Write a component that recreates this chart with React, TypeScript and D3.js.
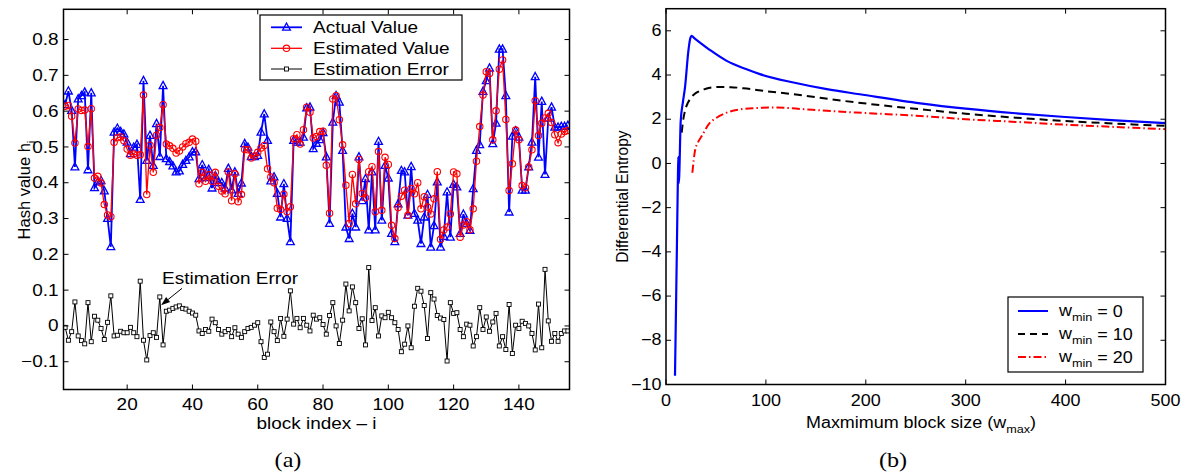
import React from 'react';
import * as d3 from 'd3';

// ---------- Panel (a) data ----------
const actualValue = [
  0.618, 0.656, 0.602, 0.444, 0.634, 0.643, 0.653, 0.436, 0.651, 0.386,
  0.402, 0.406, 0.377, 0.300, 0.221, 0.541, 0.552, 0.543, 0.536, 0.513,
  0.481, 0.499, 0.507, 0.353, 0.685, 0.462, 0.532, 0.448, 0.565, 0.473,
  0.671, 0.467, 0.459, 0.447, 0.430, 0.433, 0.451, 0.462, 0.472, 0.486,
  0.486, 0.411, 0.450, 0.414, 0.437, 0.385, 0.420, 0.400, 0.400, 0.385,
  0.440, 0.380, 0.430, 0.370, 0.399, 0.509, 0.499, 0.473, 0.473, 0.476,
  0.541, 0.592, 0.518, 0.405, 0.416, 0.370, 0.304, 0.397, 0.300, 0.235,
  0.518, 0.513, 0.513, 0.527, 0.609, 0.611, 0.495, 0.510, 0.520, 0.540,
  0.472, 0.286, 0.569, 0.643, 0.625, 0.490, 0.276, 0.244, 0.314, 0.276,
  0.472, 0.350, 0.411, 0.268, 0.430, 0.268, 0.515, 0.295, 0.448, 0.413,
  0.258, 0.235, 0.341, 0.434, 0.430, 0.309, 0.445, 0.314, 0.295, 0.230,
  0.304, 0.367, 0.220, 0.280, 0.402, 0.220, 0.250, 0.374, 0.248, 0.395,
  0.388, 0.258, 0.312, 0.286, 0.267, 0.383, 0.490, 0.506, 0.655, 0.685,
  0.720, 0.509, 0.566, 0.773, 0.773, 0.643, 0.318, 0.530, 0.545, 0.527,
  0.379, 0.379, 0.444, 0.513, 0.696, 0.471, 0.627, 0.423, 0.580, 0.611,
  0.555, 0.555, 0.557, 0.557, 0.560,
];

const estimatedValue = [
  0.614, 0.616, 0.586, 0.511, 0.606, 0.602, 0.603, 0.501, 0.607, 0.413,
  0.418, 0.399, 0.339, 0.310, 0.305, 0.513, 0.526, 0.528, 0.517, 0.494,
  0.477, 0.480, 0.477, 0.478, 0.645, 0.367, 0.505, 0.429, 0.533, 0.554,
  0.618, 0.508, 0.503, 0.496, 0.483, 0.489, 0.500, 0.509, 0.513, 0.522,
  0.516, 0.397, 0.429, 0.404, 0.422, 0.404, 0.429, 0.390, 0.377, 0.369,
  0.430, 0.350, 0.425, 0.347, 0.367, 0.493, 0.492, 0.469, 0.475, 0.485,
  0.497, 0.504, 0.439, 0.416, 0.400, 0.329, 0.325, 0.368, 0.319, 0.333,
  0.523, 0.534, 0.508, 0.548, 0.611, 0.597, 0.525, 0.529, 0.543, 0.544,
  0.449, 0.315, 0.634, 0.643, 0.576, 0.506, 0.393, 0.286, 0.423, 0.341,
  0.465, 0.370, 0.358, 0.431, 0.445, 0.319, 0.487, 0.323, 0.471, 0.451,
  0.281, 0.244, 0.331, 0.362, 0.379, 0.309, 0.384, 0.369, 0.400, 0.327,
  0.361, 0.332, 0.313, 0.355, 0.431, 0.242, 0.268, 0.276, 0.313, 0.430,
  0.425, 0.248, 0.282, 0.291, 0.269, 0.327, 0.460, 0.557, 0.645, 0.710,
  0.705, 0.520, 0.601, 0.717, 0.743, 0.577, 0.378, 0.453, 0.547, 0.520,
  0.392, 0.386, 0.444, 0.492, 0.629, 0.532, 0.566, 0.581, 0.594, 0.568,
  0.534, 0.512, 0.536, 0.543, 0.546,
];

const estimationError = [
  -0.004, -0.040, -0.016, 0.067, -0.028, -0.041, -0.050, 0.065, -0.044, 0.027,
  0.016, -0.007, -0.038, 0.010, 0.084, -0.028, -0.026, -0.015, -0.019, -0.019,
  -0.004, -0.019, -0.030, 0.125, -0.040, -0.095, -0.027, -0.019, -0.032, 0.081,
  -0.053, 0.041, 0.044, 0.049, 0.053, 0.056, 0.049, 0.047, 0.041, 0.036,
  0.030, -0.014, -0.021, -0.010, -0.015, 0.019, 0.009, -0.010, -0.023, -0.016,
  -0.010, -0.030, -0.005, -0.023, -0.032, -0.016, -0.007, -0.004, 0.002, 0.009,
  -0.044, -0.088, -0.079, 0.011, -0.016, -0.041, 0.021, -0.029, 0.019, 0.098,
  0.005, 0.021, -0.005, 0.021, 0.002, -0.014, 0.030, 0.019, 0.023, 0.004,
  -0.023, 0.029, 0.065, 0.000, -0.049, 0.016, 0.117, 0.042, 0.109, 0.065,
  -0.007, 0.020, -0.053, 0.163, 0.015, 0.051, -0.028, 0.028, 0.023, 0.038,
  0.023, 0.009, -0.010, -0.072, -0.051, 0.000, -0.061, 0.055, 0.105, 0.097,
  0.057, -0.035, 0.093, 0.075, 0.029, 0.022, 0.018, -0.098, 0.065, 0.035,
  0.037, -0.010, -0.030, 0.005, 0.002, -0.056, -0.030, 0.051, -0.010, 0.025,
  -0.015, 0.011, 0.035, -0.056, -0.030, -0.066, 0.060, -0.077, 0.002, -0.007,
  0.013, 0.007, 0.000, -0.021, -0.067, 0.061, -0.061, 0.158, 0.014, -0.043,
  -0.021, -0.043, -0.021, -0.014, -0.014,
];

const xTicksA = [20, 40, 60, 80, 100, 120, 140];
const yTicksA = [-0.1, 0, 0.1, 0.2, 0.3, 0.4, 0.5, 0.6, 0.7, 0.8];
const legendA = ['Actual Value', 'Estimated Value', 'Estimation Error'];

// ---------- Panel (b) data: [w_max, differential entropy] ----------
const wmin0: [number, number][] = [
  [9, -9.6], [10, -6.6], [11, -3.5], [12, -0.4], [12.4, 0.3], [12.6, -0.9], [13.2, -0.6],
  [14.7, 1.9], [17, 2.8], [19, 3.43], [22.4, 5.09], [24, 5.6], [25.7, 5.77], [28, 5.68],
  [34, 5.47], [45, 5.1], [60.8, 4.64], [80, 4.27], [94, 4.04], [127.6, 3.66], [161, 3.36],
  [194, 3.13], [254.5, 2.72], [300, 2.48], [350, 2.27], [400, 2.1], [450, 1.95], [500, 1.82],
];
const wmin10: [number, number][] = [
  [15.7, 1.39], [17, 1.9], [19, 2.38], [22, 2.75], [24, 2.91], [28, 3.12], [34, 3.28],
  [40, 3.38], [50.8, 3.46], [65, 3.45], [77.5, 3.4], [100, 3.27], [127.6, 3.13],
  [177.7, 2.83], [254.5, 2.45], [300, 2.25], [350, 2.07], [400, 1.92], [450, 1.8], [500, 1.7],
];
const wmin20: [number, number][] = [
  [26.4, -0.42], [29, 0.57], [32, 0.95], [35.8, 1.24], [44, 1.85], [50, 2.05], [60.8, 2.3],
  [75, 2.45], [87.5, 2.5], [111, 2.53], [130, 2.48], [161, 2.38], [200, 2.28], [254.5, 2.15],
  [300, 2.0], [350, 1.88], [400, 1.75], [450, 1.65], [500, 1.55],
];
const xTicksB = [0, 100, 200, 300, 400, 500];
const yTicksB = [-10, -8, -6, -4, -2, 0, 2, 4, 6];
const legendB = ['0', '10', '20'];

const SANS = '"Liberation Sans", Arial, Helvetica, sans-serif';
const SERIF = '"Liberation Serif", "Times New Roman", serif';
const SX = 1.15;

const fmt = (v: number) => {
  const s = d3.format('')(Math.round(v * 10) / 10);
  return s.replace('-', '\u2212');
};

type TP = {
  x: number; y: number; size: number; anchor?: string; baseline?: string;
  family?: string; rotate?: number; sx?: number; children: React.ReactNode;
};
const T = ({ x, y, size, anchor = 'start', baseline = 'auto', family = SANS, rotate = 0, sx = SX, children }: TP) => (
  <text
    transform={`translate(${x},${y}) rotate(${rotate}) scale(${rotate ? 1 : sx},1)`}
    fontSize={size}
    fontFamily={family}
    textAnchor={anchor}
    dominantBaseline={baseline}
    fill="#000"
  >
    {children}
  </text>
);

const tri = (x: number, y: number) => `M${x},${y - 4.3}L${x + 3.9},${y + 2.9}L${x - 3.9},${y + 2.9}Z`;

export default function App() {
  // ---- Panel (a) scales ----
  const xA = d3.scaleLinear().domain([0.5, 155.5]).range([63.5, 569.5]);
  const yA = d3.scaleLinear().domain([-0.1776, 0.8845]).range([389.5, 9.3]);
  const idx = actualValue.map((_, i) => i + 1);

  const lineA = (vals: number[]) =>
    d3.line<number>().x((_, i) => xA(idx[i])).y((v) => yA(v))(vals) as string;

  // ---- Panel (b) scales ----
  const xB = d3.scaleLinear().domain([0, 500]).range([666, 1165.5]);
  const yB = d3.scaleLinear().domain([-10, 7]).range([384.5, 8.7]);
  const lineB = d3.line<[number, number]>().x((d) => xB(d[0])).y((d) => yB(d[1])).curve(d3.curveMonotoneX);

  const tl = 5;
  const [ax0, ax1] = xA.range();
  const [ay0, ay1] = yA.range();
  const [bx0, bx1] = xB.range();
  const [by0, by1] = yB.range();

  // annotation (data coordinates)
  const arrowTip = [30.4, 0.058];
  const arrowTail = [36.8, 0.105];
  const tipX = xA(arrowTip[0]), tipY = yA(arrowTip[1]);
  const tailX = xA(arrowTail[0]), tailY = yA(arrowTail[1]);
  const ang = Math.atan2(tipY - tailY, tipX - tailX);
  const ah = 9, aw = 3.2;
  const bxp = tipX - ah * Math.cos(ang), byp = tipY - ah * Math.sin(ang);
  const head = `M${tipX},${tipY}L${bxp + aw * Math.sin(ang)},${byp - aw * Math.cos(ang)}L${bxp - aw * Math.sin(ang)},${byp + aw * Math.cos(ang)}Z`;

  const legA = { x0: 260, y0: 15, w: 202, h: 65, rows: [27.3, 48.3, 69] };
  const legB = { x0: 1008, y0: 297, w: 135, h: 75, rows: [311, 334, 357] };

  return (
    <svg width={1185} height={475} style={{ position: 'absolute', left: 0, top: 0, background: '#fff' }}>
      <rect width={1185} height={475} fill="#fff" />

      {/* ================= Panel (a) ================= */}
      <g>
        <clipPath id="clipA">
          <rect x={ax0} y={ay1} width={ax1 - ax0} height={ay0 - ay1} />
        </clipPath>
        <g clipPath="url(#clipA)">
          <path d={lineA(actualValue)} fill="none" stroke="#0000ff" strokeWidth={1.8} />
          {actualValue.map((v, i) => (
            <path key={'a' + i} d={tri(xA(idx[i]), yA(v))} fill="none" stroke="#0000ff" strokeWidth={1.3} />
          ))}
          <path d={lineA(estimatedValue)} fill="none" stroke="#ff0000" strokeWidth={1.3} />
          {estimatedValue.map((v, i) => (
            <circle key={'e' + i} cx={xA(idx[i])} cy={yA(v)} r={3.2} fill="none" stroke="#ff0000" strokeWidth={1.1} />
          ))}
          <path d={lineA(estimationError)} fill="none" stroke="#000" strokeWidth={1} />
          {estimationError.map((v, i) => (
            <rect key={'r' + i} x={xA(idx[i]) - 2} y={yA(v) - 2} width={4} height={4} fill="#fff" stroke="#000" strokeWidth={0.9} />
          ))}
        </g>

        {/* axes box */}
        <rect x={ax0} y={ay1} width={ax1 - ax0} height={ay0 - ay1} fill="none" stroke="#000" strokeWidth={1.5} />
        {xTicksA.map((t) => (
          <g key={'xa' + t}>
            <line x1={xA(t)} x2={xA(t)} y1={ay0} y2={ay0 - tl} stroke="#000" />
            <line x1={xA(t)} x2={xA(t)} y1={ay1} y2={ay1 + tl} stroke="#000" />
            <T x={xA(t)} y={410} size={16.5} anchor="middle">{String(t)}</T>
          </g>
        ))}
        {yTicksA.map((t) => (
          <g key={'ya' + t}>
            <line x1={ax0} x2={ax0 + tl} y1={yA(t)} y2={yA(t)} stroke="#000" />
            <line x1={ax1} x2={ax1 - tl} y1={yA(t)} y2={yA(t)} stroke="#000" />
            <T x={58.5} y={yA(t)} size={16.5} anchor="end" baseline="central">{fmt(t)}</T>
          </g>
        ))}
        <T x={(ax0 + ax1) / 2} y={428.5} size={16.5} anchor="middle">block index – i</T>
        <T x={30} y={190} size={16.5} anchor="middle" rotate={-90}>
          Hash value h<tspan fontSize={11.5} dy={5}>i</tspan>
        </T>

        {/* annotation */}
        <T x={xA(30.7)} y={yA(0.133)} size={16.5} baseline="central">Estimation Error</T>
        <line x1={tailX} y1={tailY} x2={bxp} y2={byp} stroke="#000" strokeWidth={1} />
        <path d={head} fill="#000" />

        {/* legend */}
        <rect x={legA.x0} y={legA.y0} width={legA.w} height={legA.h} fill="#fff" stroke="#000" strokeWidth={1.2} />
        {legendA.map((name, k) => {
          const y = legA.rows[k];
          const x1 = 271, x2 = 302, xm = (x1 + x2) / 2;
          return (
            <g key={name}>
              {k === 0 && (
                <>
                  <line x1={x1} x2={x2} y1={y} y2={y} stroke="#0000ff" strokeWidth={1.8} />
                  <path d={tri(xm, y)} fill="none" stroke="#0000ff" strokeWidth={1.3} />
                </>
              )}
              {k === 1 && (
                <>
                  <line x1={x1} x2={x2} y1={y} y2={y} stroke="#ff0000" strokeWidth={1.3} />
                  <circle cx={xm} cy={y} r={3.2} fill="none" stroke="#ff0000" strokeWidth={1.1} />
                </>
              )}
              {k === 2 && (
                <>
                  <line x1={x1} x2={x2} y1={y} y2={y} stroke="#000" strokeWidth={1} />
                  <rect x={xm - 2} y={y - 2} width={4} height={4} fill="#fff" stroke="#000" strokeWidth={0.9} />
                </>
              )}
              <T x={313} y={y} size={16.5} baseline="central">{name}</T>
            </g>
          );
        })}
        <T x={288} y={467} size={21} anchor="middle" family={SERIF}>(a)</T>
      </g>

      {/* ================= Panel (b) ================= */}
      <g>
        <clipPath id="clipB">
          <rect x={bx0} y={by1} width={bx1 - bx0} height={by0 - by1} />
        </clipPath>
        <g clipPath="url(#clipB)">
          <path d={lineB(wmin20) as string} fill="none" stroke="#ff0000" strokeWidth={2} strokeDasharray="8,3,1.5,3" />
          <path d={lineB(wmin10) as string} fill="none" stroke="#000" strokeWidth={2} strokeDasharray="8,5" />
          <path d={lineB(wmin0) as string} fill="none" stroke="#0000ff" strokeWidth={2.2} />
        </g>
        <rect x={bx0} y={by1} width={bx1 - bx0} height={by0 - by1} fill="none" stroke="#000" strokeWidth={1.5} />
        {xTicksB.map((t) => (
          <g key={'xb' + t}>
            <line x1={xB(t)} x2={xB(t)} y1={by0} y2={by0 - tl} stroke="#000" />
            <line x1={xB(t)} x2={xB(t)} y1={by1} y2={by1 + tl} stroke="#000" />
            <T x={xB(t)} y={405.5} size={15.6} anchor="middle">{String(t)}</T>
          </g>
        ))}
        {yTicksB.map((t) => (
          <g key={'yb' + t}>
            <line x1={bx0} x2={bx0 + tl} y1={yB(t)} y2={yB(t)} stroke="#000" />
            <line x1={bx1} x2={bx1 - tl} y1={yB(t)} y2={yB(t)} stroke="#000" />
            <T x={661.5} y={yB(t)} size={15.6} anchor="end" baseline="central">{fmt(t)}</T>
          </g>
        ))}
        <T x={921} y={428} size={15.6} anchor="middle">
          Maxmimum block size (w<tspan fontSize={11} dy={5}>max</tspan><tspan dy={-5}>)</tspan>
        </T>
        <T x={628} y={196.5} size={15.6} anchor="middle" rotate={-90}>Differential Entropy</T>

        {/* legend */}
        <rect x={legB.x0} y={legB.y0} width={legB.w} height={legB.h} fill="#fff" stroke="#000" strokeWidth={1.2} />
        {legendB.map((v, k) => {
          const y = legB.rows[k];
          const stroke = ['#0000ff', '#000', '#ff0000'][k];
          const dash = [undefined, '7,5', '8,3,1.5,3'][k];
          return (
            <g key={'lb' + v}>
              <line x1={1018} x2={1048} y1={y} y2={y} stroke={stroke} strokeWidth={2} strokeDasharray={dash} />
              <T x={1059} y={y} size={15.6} baseline="central">
                w<tspan fontSize={11} dy={6}>min</tspan><tspan dy={-6}>{' = ' + v}</tspan>
              </T>
            </g>
          );
        })}
        <T x={893} y={467} size={21} anchor="middle" family={SERIF}>(b)</T>
      </g>
    </svg>
  );
}
